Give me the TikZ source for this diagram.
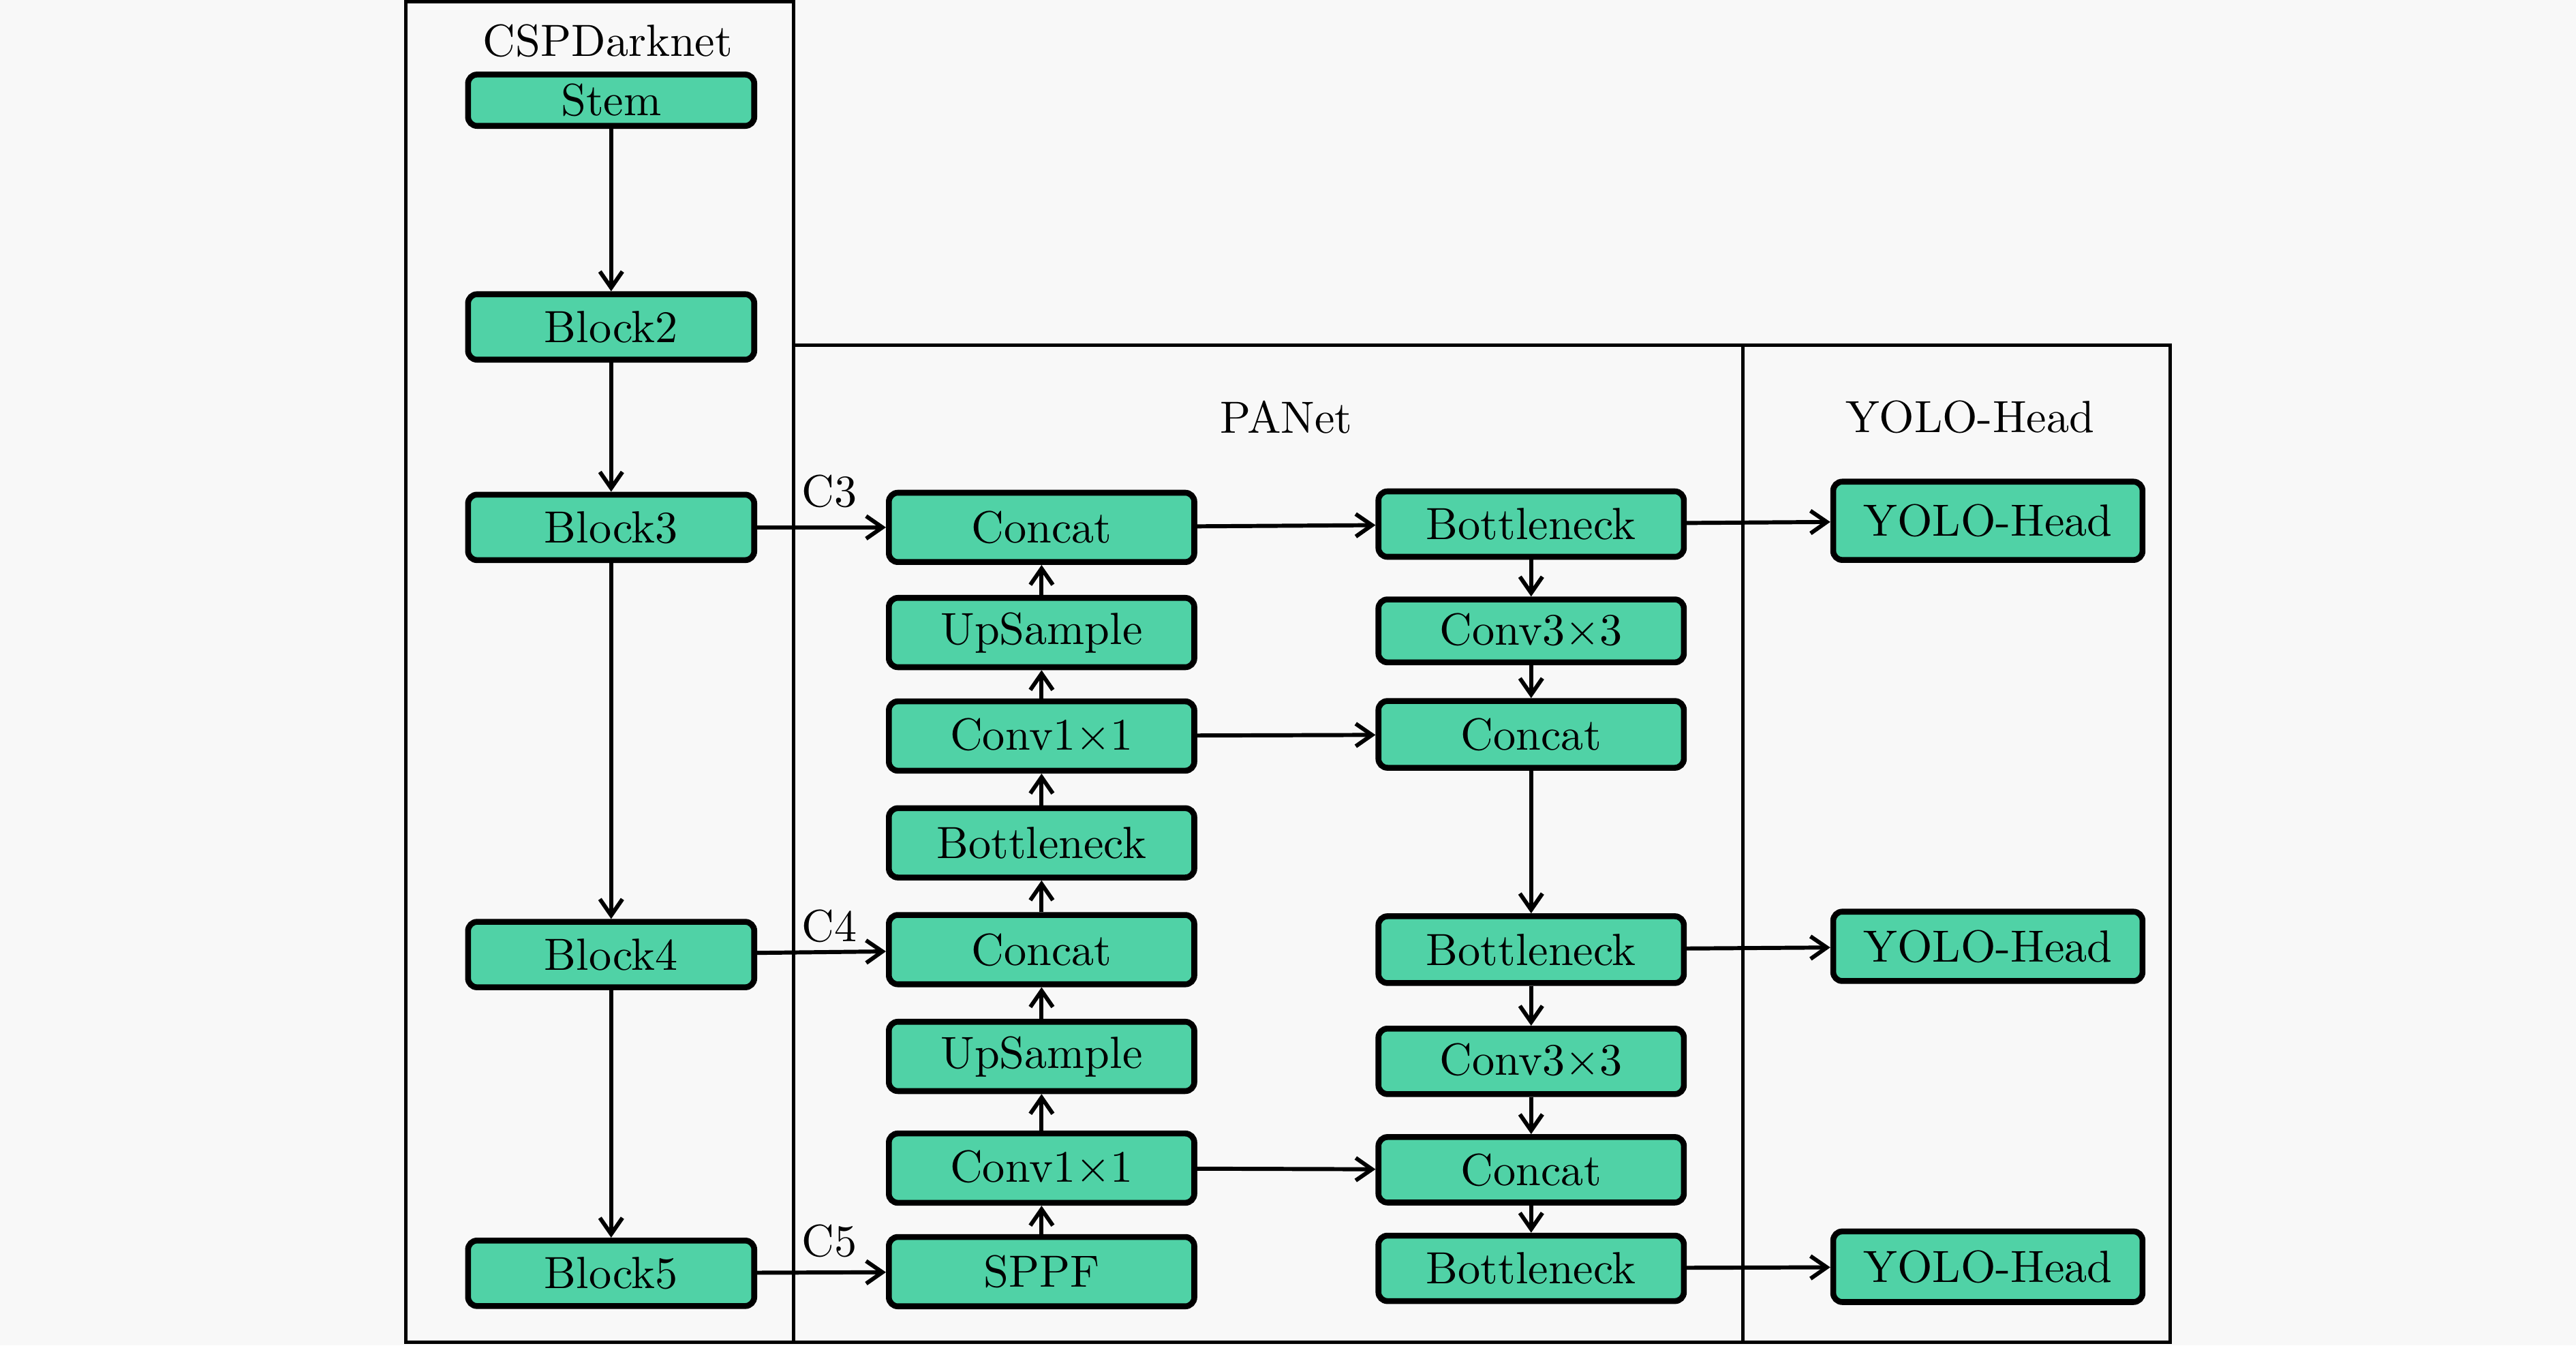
\documentclass[tikz,border=0pt]{standalone}
\usepackage{amsmath}
\usepackage{xcolor}
\usepackage{tikz}
\usetikzlibrary{arrows.meta, positioning}
\definecolor{blockgreen}{RGB}{80,210,166}
\definecolor{bggray}{RGB}{248,248,248}
\tikzstyle{stage} = [rectangle, rounded corners=2pt, minimum width=2.23cm, minimum height=0.51cm, inner ysep=1pt, text centered, draw=black, line width=1.3pt, fill=blockgreen]
\tikzstyle{neck} = [stage, minimum width=2.38cm, minimum height=0.54cm]
\tikzstyle{head} = [stage, minimum width=2.41cm, minimum height=0.58cm]
\tikzstyle{arrow} = [line width=0.9pt, -{Straight Barb[length=3.6pt, width=5pt]}]
\tikzstyle{frame} = [draw=black, line width=0.7pt]

\begin{document}
\begin{tikzpicture}[x=0.0128cm, y=-0.0128cm]

% Background and frames
\fill[bggray] (0,0) rectangle (1568,819);
\useasboundingbox (0,0) rectangle (1568,819);
\draw[frame] (247,1) rectangle (483,817);
\draw[frame] (483,210) rectangle (1061,817);
\draw[frame] (1061,210) rectangle (1321,817);
\node (tbackbone) at (370,25) {CSPDarknet};
\node (tneck) at (783,254) {PANet};
\node (thead) at (1199,254) {YOLO-Head};

% Backbone
\node (stem) [stage, minimum height=0.40cm] at (372,61) {Stem};
\node (block2) [stage] at (372,199) {Block2};
\node (block3) [stage] at (372,321) {Block3};
\node (block4) [stage] at (372,581) {Block4};
\node (block5) [stage] at (372,775) {Block5};

% PANet top-down path
\node (catA) [neck] at (634,321) {Concat};
\node (upA) [neck] at (634,385) {UpSample};
\node (convA) [neck] at (634,448) {Conv1$\times$1};
\node (botA) [neck] at (634,513) {Bottleneck};
\node (catB) [neck] at (634,578) {Concat};
\node (upB) [neck] at (634,643) {UpSample};
\node (convB) [neck] at (634,711) {Conv1$\times$1};
\node (sppf) [neck] at (634,774) {SPPF};

% PANet bottom-up path
\node (botR1) [neck, minimum height=0.51cm] at (932,319) {Bottleneck};
\node (conv3A) [neck, minimum height=0.49cm] at (932,384) {Conv3$\times$3};
\node (catR1) [neck, minimum height=0.52cm] at (932,447) {Concat};
\node (botR2) [neck, minimum height=0.52cm] at (932,578) {Bottleneck};
\node (conv3B) [neck, minimum height=0.51cm] at (932,646) {Conv3$\times$3};
\node (catR2) [neck, minimum height=0.51cm] at (932,712) {Concat};
\node (botR3) [neck, minimum height=0.51cm] at (932,772) {Bottleneck};

% Heads
\node (headA) [head, minimum height=0.61cm] at (1210,317) {YOLO-Head};
\node (headB) [head, minimum height=0.54cm] at (1210,576) {YOLO-Head};
\node (headC) [head, minimum height=0.55cm] at (1210,771) {YOLO-Head};

% Arrows
\draw [arrow] (stem) -- (block2);
\draw [arrow] (block2) -- (block3);
\draw [arrow] (block3) -- (block4);
\draw [arrow] (block4) -- (block5);
\draw [arrow] (block3) -- node[above, pos=0.56, yshift=0.6pt] {C3} (catA);
\draw [arrow] (block4) -- node[above, pos=0.56, yshift=-1.6pt] {C4} (catB);
\draw [arrow] (block5) -- node[above, pos=0.56, yshift=-0.5pt] {C5} (sppf);
\draw [arrow] (sppf) -- (convB);
\draw [arrow] (convB) -- (upB);
\draw [arrow] (upB) -- (catB);
\draw [arrow] (catB) -- (botA);
\draw [arrow] (botA) -- (convA);
\draw [arrow] (convA) -- (upA);
\draw [arrow] (upA) -- (catA);
\draw [arrow] (catA) -- (botR1);
\draw [arrow] (botR1) -- (conv3A);
\draw [arrow] (conv3A) -- (catR1);
\draw [arrow] (convA) -- (catR1);
\draw [arrow] (catR1) -- (botR2);
\draw [arrow] (botR2) -- (conv3B);
\draw [arrow] (conv3B) -- (catR2);
\draw [arrow] (convB) -- (catR2);
\draw [arrow] (catR2) -- (botR3);
\draw [arrow] (botR1) -- (headA);
\draw [arrow] (botR2) -- (headB);
\draw [arrow] (botR3) -- (headC);

\end{tikzpicture}
\end{document}
